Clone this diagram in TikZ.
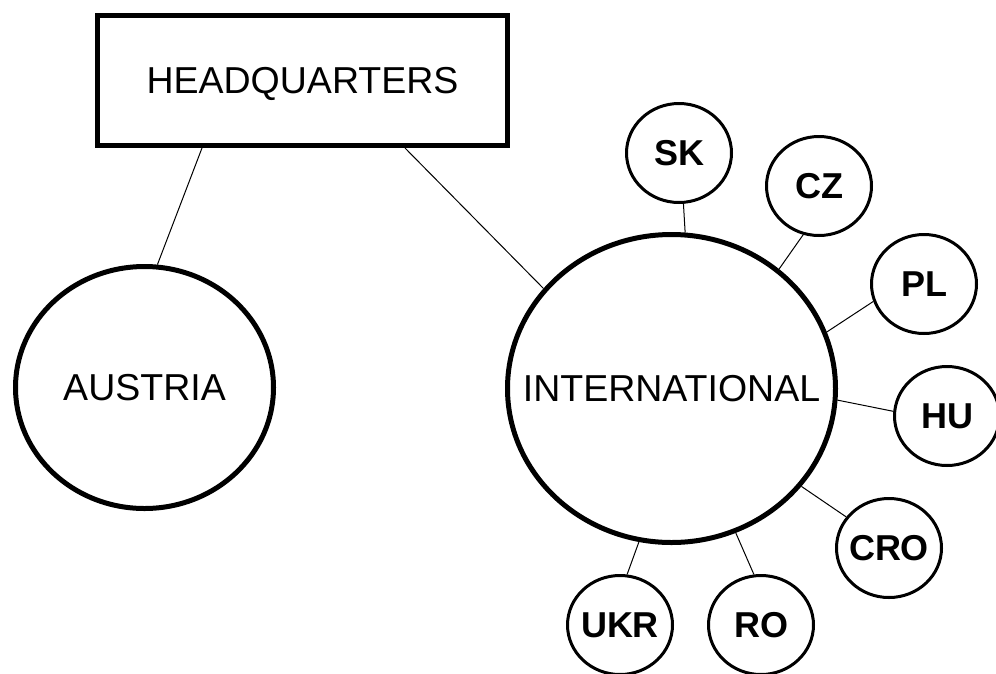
\documentclass[tikz,border=0pt]{standalone}
\usepackage{fontspec}
\setmainfont{Liberation Sans}
\usetikzlibrary{shapes.geometric}
\tikzset{
  bigbox/.style={draw, line width=5pt, rectangle, minimum width=410pt, minimum height=130pt, inner sep=0pt,
    font=\fontsize{37.5}{42}\selectfont, text height=26pt, text depth=0pt},
  bigcirc/.style={draw, line width=5pt, ellipse, inner sep=0pt,
    font=\fontsize{37.5}{42}\selectfont, text height=26pt, text depth=0pt},
  smallcirc/.style={draw, line width=3pt, ellipse, inner sep=0pt, minimum width=105pt, minimum height=99pt,
    font=\fontsize{36}{40}\selectfont\bfseries, text height=25.5pt, text depth=0pt},
  link/.style={draw, line width=1pt}
}
\begin{document}
\begin{tikzpicture}[x=1pt, y=-1pt]
\useasboundingbox (0,0) rectangle (996,673);
\clip (0,0) rectangle (996,673);
\node[bigbox] (hq) at (302.5,80.5) {HEADQUARTERS};
\node[bigcirc, minimum width=258pt, minimum height=242pt] (aus) at (144.5,387.5) {\makebox[0pt]{AUSTRIA}};
\node[bigcirc, minimum width=328pt, minimum height=308pt] (int) at (671.5,388.5) {\makebox[0pt]{INTERNATIONAL}};
\node[smallcirc] (sk) at (679,153) {\makebox[0pt]{SK}};
\node[smallcirc] (cz) at (819,186) {\makebox[0pt]{CZ}};
\node[smallcirc] (pl) at (924,284) {\makebox[0pt]{PL}};
\node[smallcirc] (hu) at (947,416) {\makebox[0pt]{HU}};
\node[smallcirc] (cro) at (889,548) {\makebox[0pt]{CRO}};
\node[smallcirc] (ro) at (761,625) {\makebox[0pt]{RO}};
\node[smallcirc] (ukr) at (620,625) {\makebox[0pt]{UKR}};
\draw[link] ([xshift=-100.5pt]hq.south) -- (aus.84);
\draw[link] ([xshift=102.5pt]hq.south) -- (int.142);
\draw[link] (sk.-85.5) -- (int.85.8);
\draw[link] (cz.-108.4) -- (int.48.8);
\draw[link] (pl.199) -- (int.20.5);
\draw[link] (hu.175.8) -- (int.-4.3);
\draw[link] (cro.144.8) -- (int.-37.4);
\draw[link] (ro.98.9) -- (int.-66.8);
\draw[link] (ukr.82.2) -- (int.-102.3);
\end{tikzpicture}
\end{document}
